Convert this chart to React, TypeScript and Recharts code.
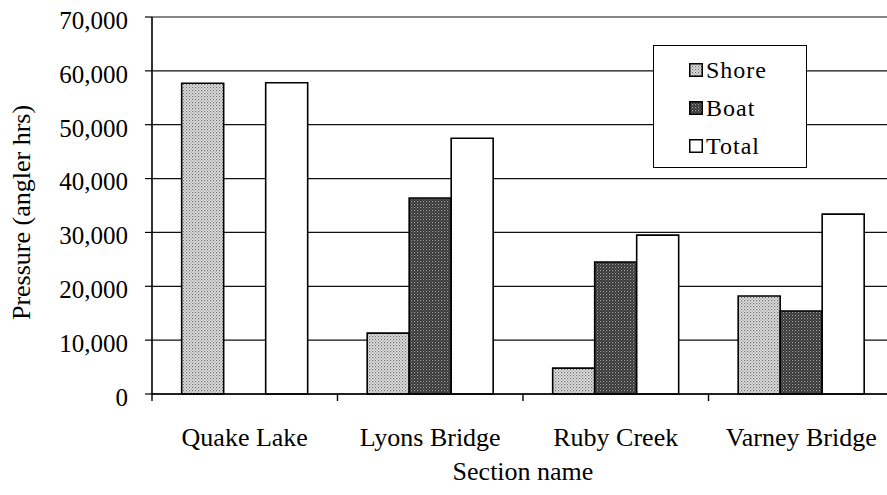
import React from "react";
import { BarChart, Bar, XAxis, YAxis, CartesianGrid } from "recharts";

const categories = ["Quake Lake", "Lyons Bridge", "Ruby Creek", "Varney Bridge"];
const shore = [57700, 11300, 4800, 18200];
const boat = [0, 36400, 24500, 15400];
const total = [57800, 47500, 29500, 33400];
const yTicks = [0, 10000, 20000, 30000, 40000, 50000, 60000, 70000];

const data = categories.map((name, i) => ({
  name,
  shore: shore[i],
  boat: boat[i],
  total: total[i],
}));

const FONT = "Liberation Serif, Times New Roman, serif";

const legendItems = [
  { label: "Shore", fill: "url(#shorePat)" },
  { label: "Boat", fill: "url(#boatPat)" },
  { label: "Total", fill: "#fff" },
];

const LegendBox = () => (
  <div
    style={{
      position: "absolute",
      left: 653,
      top: 45,
      width: 154,
      height: 123,
      border: "1px solid #000",
      background: "#fff",
      boxSizing: "border-box",
      fontFamily: FONT,
      fontSize: 24,
      letterSpacing: 1,
      paddingTop: 5,
      color: "#000",
    }}
  >
    {legendItems.map((it) => (
      <div
        key={it.label}
        style={{ height: 38, display: "flex", alignItems: "center", paddingLeft: 35 }}
      >
        <svg width={14} height={14} style={{ marginRight: 3 }}>
          <rect x={0.75} y={0.75} width={12.5} height={12.5} fill={it.fill} stroke="#000" strokeWidth={1.5} />
        </svg>
        <span>{it.label}</span>
      </div>
    ))}
  </div>
);

// category label under the band centre, tick mark on the band's left edge
const CategoryTick = (props: any) => {
  const { x, y, payload } = props;
  const edge = x - (payload.offset || 0);
  return (
    <g>
      <line x1={edge} y1={y} x2={edge} y2={y + 7} stroke="#000" strokeWidth={1.4} />
      <text x={x} y={y + 52} textAnchor="middle" fontFamily={FONT} fontSize={26} fill="#000">
        {payload.value}
      </text>
    </g>
  );
};

const YLabel = (props: any) => {
  const { viewBox } = props;
  const cx = viewBox.x + 21;
  const cy = viewBox.y + viewBox.height / 2 + 7;
  return (
    <text
      x={cx}
      y={cy}
      transform={`rotate(-90 ${cx} ${cy})`}
      textAnchor="middle"
      dominantBaseline="central"
      fontFamily={FONT}
      fontSize={26}
      fill="#000"
    >
      Pressure (angler hrs)
    </text>
  );
};

const XLabel = (props: any) => {
  const { viewBox } = props;
  return (
    <text
      x={viewBox.x + viewBox.width / 2}
      y={viewBox.y + 86}
      textAnchor="middle"
      fontFamily={FONT}
      fontSize={26}
      fill="#000"
    >
      Section name
    </text>
  );
};

export default function App() {
  return (
    <div
      style={{
        position: "absolute",
        left: 0,
        top: 0,
        width: 887,
        height: 495,
        overflow: "hidden",
        background: "#fff",
      }}
    >
      <BarChart
        width={900}
        height={495}
        data={data}
        margin={{ top: 17, right: 6, left: 0, bottom: 71 }}
        barGap={0}
        barCategoryGap="16%"
      >
        <defs>
          <pattern id="shorePat" width="3" height="3" patternUnits="userSpaceOnUse">
            <rect width="3" height="3" fill="#e4e4e4" />
            <rect x="0" y="0" width="1.2" height="1.2" fill="#6a6a6a" />
            <rect x="1.5" y="1.5" width="1.2" height="1.2" fill="#8a8a8a" />
          </pattern>
          <pattern id="boatPat" width="3" height="3" patternUnits="userSpaceOnUse">
            <rect width="3" height="3" fill="#2e2e2e" />
            <rect x="0" y="0" width="1.2" height="1.2" fill="#a8a8a8" />
            <rect x="1.5" y="1.5" width="1.2" height="1.2" fill="#7a7a7a" />
          </pattern>
        </defs>
        <CartesianGrid vertical={false} stroke="#111" strokeWidth={1.2} />
        <XAxis
          dataKey="name"
          height={30}
          tickLine={false}
          tickSize={0}
          tickMargin={0}
          axisLine={{ stroke: "#000", strokeWidth: 1.6 }}
          tick={<CategoryTick />}
          interval={0}
          label={<XLabel />}
        />
        <YAxis
          width={152}
          domain={[0, 70000]}
          ticks={yTicks}
          interval={0}
          tickSize={7}
          tickMargin={17}
          tickFormatter={(v: number) => v.toLocaleString("en-US")}
          axisLine={{ stroke: "#000", strokeWidth: 1.6 }}
          tickLine={{ stroke: "#000", strokeWidth: 1.2 }}
          tick={{ fontFamily: FONT, fontSize: 25, fill: "#000", dy: 3 }}
          label={<YLabel />}
        />
        <Bar dataKey="shore" name="Shore" fill="url(#shorePat)" stroke="#000" strokeWidth={1.6} isAnimationActive={false} />
        <Bar dataKey="boat" name="Boat" fill="url(#boatPat)" stroke="#000" strokeWidth={1.6} isAnimationActive={false} />
        <Bar dataKey="total" name="Total" fill="#fff" stroke="#000" strokeWidth={1.6} isAnimationActive={false} />
      </BarChart>
      <LegendBox />
    </div>
  );
}
